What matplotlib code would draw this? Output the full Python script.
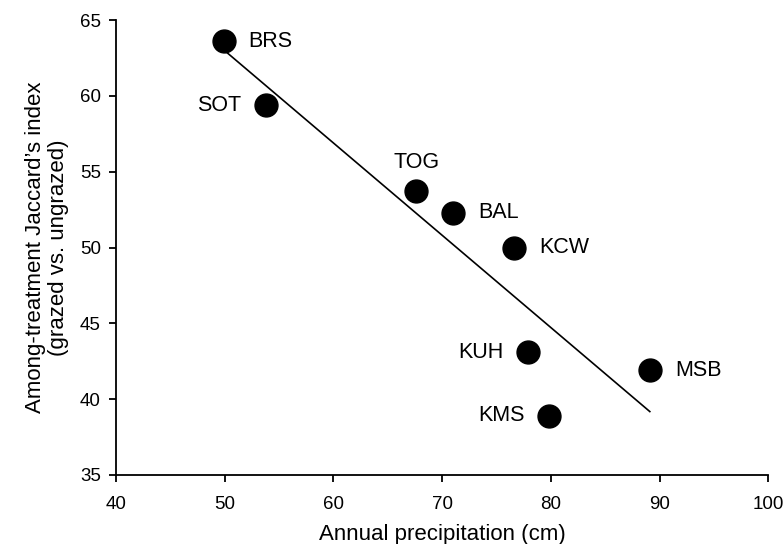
import numpy as np
import matplotlib
matplotlib.use('Agg')
import matplotlib.pyplot as plt

plt.rcParams['font.family'] = ['Liberation Sans', 'DejaVu Sans']

# ── 数据 ─────────────────────────────────────────────
sites = ['BRS', 'SOT', 'TOG', 'BAL', 'KCW', 'KUH', 'MSB', 'KMS']
precip = [49.9, 53.8, 67.6, 71.0, 76.6, 77.9, 89.1, 79.85]
jaccard = [63.6, 59.4, 53.75, 52.3, 50.0, 43.1, 41.9, 38.9]

# label placement (offset in points, alignment)
label_pos = {
    'BRS': ((18, 0), 'left'),
    'SOT': ((-18, 0), 'right'),
    'TOG': ((0, 20), 'center'),
    'BAL': ((18, 0), 'left'),
    'KCW': ((18, 0), 'left'),
    'KUH': ((-18, 0), 'right'),
    'MSB': ((18, 0), 'left'),
    'KMS': ((-18, 0), 'right'),
}

fig = plt.figure(figsize=(7.84, 5.44), dpi=100)
ax = fig.add_axes([0.148, 0.127, 0.832, 0.836])

x = np.array(precip)
y = np.array(jaccard)

# regression line over the data range
slope, intercept = np.polyfit(x, y, 1)
xs = np.array([x.min(), x.max()])
ax.plot(xs, slope * xs + intercept, color='black', lw=1.2, zorder=2)

ax.plot(x, y, 'o', color='black', markersize=16.5, zorder=3)

for name, xi, yi in zip(sites, precip, jaccard):
    off, ha = label_pos[name]
    ax.annotate(name, (xi, yi), xytext=off, textcoords='offset points',
                ha=ha, va='center', fontsize=15.5)

ax.set_xlim(40, 100)
ax.set_ylim(35, 65)
ax.set_xticks(np.arange(40, 101, 10))
ax.set_yticks(np.arange(35, 66, 5))

for s in ['top', 'right']:
    ax.spines[s].set_visible(False)
for s in ['left', 'bottom']:
    ax.spines[s].set_linewidth(1.3)

ax.tick_params(axis='both', direction='out', length=5, width=1.3, labelsize=13.5)
ax.tick_params(axis='x', pad=10)
ax.tick_params(axis='y', pad=6)

ax.set_xlabel('Annual precipitation (cm)', fontsize=16, labelpad=8)
ax.set_ylabel("Among-treatment Jaccard\u2019s index\n(grazed vs. ungrazed)",
              fontsize=16, labelpad=8, linespacing=1.1)

plt.savefig('out.png', dpi=100)
plt.close()
